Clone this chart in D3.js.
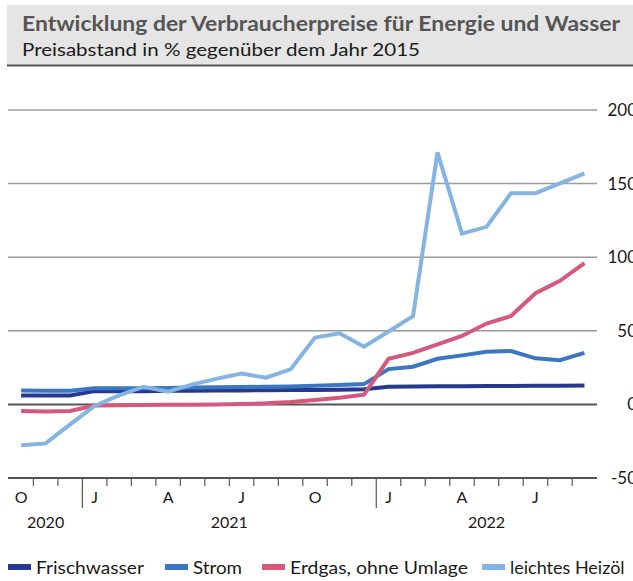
<!DOCTYPE html>
<html>
<head>
<meta charset="utf-8">
<script src="https://cdn.jsdelivr.net/npm/d3@7"></script>
<style>
  body { margin: 0; background: #fff; }
  text { font-family: Lato, "Open Sans", sans-serif; }
</style>
</head>
<body>
<svg id="chart" width="633" height="581"></svg>
<script>
// months Oct 2020 .. Sep 2022
var months = ["2020-10","2020-11","2020-12",
  "2021-01","2021-02","2021-03","2021-04","2021-05","2021-06","2021-07","2021-08","2021-09","2021-10","2021-11","2021-12",
  "2022-01","2022-02","2022-03","2022-04","2022-05","2022-06","2022-07","2022-08","2022-09"]

var frischwasser = [6, 6, 6, 9, 9, 9, 9.2, 9.3, 9.4, 9.5, 9.6, 9.7, 9.8, 10, 10.3, 12, 12.2, 12.3, 12.4, 12.5, 12.5, 12.6, 12.7, 12.8]
var strom        = [9.5, 9.3, 9.3, 11, 11, 11, 11.2, 11.4, 11.6, 11.8, 12, 12.2, 12.6, 13.2, 13.8, 24, 25.6, 31, 33.3, 35.8, 36.3, 31.3, 30, 35]
var erdgas       = [-4.5, -4.8, -4.5, -0.7, -0.5, -0.4, -0.3, -0.2, 0, 0.2, 0.7, 1.6, 3, 4.5, 6.6, 31, 35, 40.8, 46.5, 54.9, 60, 75.5, 83.9, 95.9]
var heizoel      = [-27.7, -26.5, -13.6, -1.1, 6.1, 12, 8.6, 13.6, 17.5, 20.9, 18.1, 23.8, 45.4, 48.3, 39.2, 49.5, 60, 171.2, 116, 120.6, 143.5, 143.5, 150.1, 157]

var seriesNames  = ["Frischwasser", "Strom", "Erdgas, ohne Umlage", "leichtes Heizöl"]
var seriesColors = ["#25398f", "#3a76c1", "#d6587a", "#84b4e2"]
var yTicks = [-50, 0, 50, 100, 150, 200]
var monthLetters = {"10": "O", "01": "J", "04": "A", "07": "J"}
var years = ["2020", "2021", "2022"]

var svg = d3.select("#chart")

// header
svg.append("rect").attr("x", 7).attr("y", 5).attr("width", 626).attr("height", 60).attr("fill", "#e5e5e5")
svg.append("line").attr("x1", 7).attr("x2", 633).attr("y1", 65.5).attr("y2", 65.5)
  .attr("stroke", "#555").attr("stroke-width", 2)
svg.append("text").attr("x", 22).attr("y", 31)
  .attr("font-size", 20).attr("font-weight", "bold").attr("fill", "#555")
  .attr("textLength", 598).attr("lengthAdjust", "spacingAndGlyphs")
  .text("Entwicklung der Verbraucherpreise für Energie und Wasser")
svg.append("text").attr("x", 22).attr("y", 56)
  .attr("font-size", 18).attr("fill", "#1a1a1a")
  .attr("textLength", 398).attr("lengthAdjust", "spacingAndGlyphs")
  .text("Preisabstand in % gegenüber dem Jahr 2015")

var x = d3.scaleBand().domain(months).range([8.9, 596.7])
var y = d3.scaleLinear().domain([-50, 200]).range([478, 110])
var cx = function(m){ return x(m) + x.bandwidth()/2 }

// grid
svg.append("g").selectAll("line")
  .data(yTicks.filter(function(d){ return d != -50 && d != 0 }))
  .enter().append("line")
    .attr("x1", 8).attr("x2", 597)
    .attr("y1", function(d){ return y(d) }).attr("y2", function(d){ return y(d) })
    .attr("stroke", "#9a9a9a").attr("stroke-width", 1.5)

svg.append("line").attr("x1", 8).attr("x2", 597).attr("y1", y(0)).attr("y2", y(0))
  .attr("stroke", "#555").attr("stroke-width", 2)

// y labels on the right (cut by the edge, as in the original)
svg.append("g").selectAll("text").data(yTicks).enter().append("text")
  .attr("x", 637).attr("y", function(d){ return y(d) })
  .attr("dy", "0.35em").attr("text-anchor", "end")
  .attr("font-size", 17).attr("fill", "#1a1a1a")
  .text(function(d){ return d })

// x axis
var axisY = y(-50)
svg.append("line").attr("x1", 8).attr("x2", 597).attr("y1", axisY).attr("y2", axisY)
  .attr("stroke", "#555").attr("stroke-width", 2)

svg.append("g").selectAll("line").data(months.slice(1)).enter().append("line")
  .attr("x1", function(m){ return x(m) }).attr("x2", function(m){ return x(m) })
  .attr("y1", axisY)
  .attr("y2", function(m){ return m.slice(5) == "01" ? axisY + 30 : axisY + 8 })
  .attr("stroke", "#555").attr("stroke-width", 1.2)

svg.append("g").selectAll("text")
  .data(months.filter(function(m){ return monthLetters[m.slice(5)] }))
  .enter().append("text")
    .attr("x", cx).attr("y", axisY + 25)
    .attr("text-anchor", "middle").attr("font-size", 16).attr("fill", "#1a1a1a")
    .text(function(m){ return monthLetters[m.slice(5)] })

svg.append("g").selectAll("text").data(years).enter().append("text")
  .attr("x", function(yr){
    var ms = months.filter(function(m){ return m.slice(0, 4) == yr })
    return (x(ms[0]) + x(ms[ms.length-1]) + x.bandwidth()) / 2
  })
  .attr("y", axisY + 50)
  .attr("text-anchor", "middle").attr("font-size", 16).attr("fill", "#1a1a1a")
  .text(function(yr){ return yr })

// lines, Frischwasser at the bottom, Heizöl on top
var allSeries = [frischwasser, strom, erdgas, heizoel]
var line = d3.line()
  .x(function(d, i){ return cx(months[i]) })
  .y(function(d){ return y(d) })

allSeries.forEach(function(s, k){
  svg.append("path").datum(s)
    .attr("d", line)
    .attr("fill", "none")
    .attr("stroke", seriesColors[k])
    .attr("stroke-width", 4)
    .attr("stroke-linejoin", "miter")
})

// legend
var legendX = [8, 165, 262, 482]
var legendW = [108, 49, 178, 0]
var legend = svg.append("g").selectAll("g").data(seriesNames).enter().append("g")
  .attr("transform", function(d, i){ return "translate(" + legendX[i] + ",567)" })
legend.append("rect").attr("x", 0).attr("y", -3).attr("width", 23).attr("height", 6)
  .attr("fill", function(d, i){ return seriesColors[i] })
legend.append("text").attr("x", 28).attr("y", 7)
  .attr("font-size", 18).attr("fill", "#1a1a1a")
  .each(function(d, i){
    if (legendW[i]) d3.select(this).attr("textLength", legendW[i]).attr("lengthAdjust", "spacingAndGlyphs")
  })
  .text(function(d){ return d })
</script>
</body>
</html>
